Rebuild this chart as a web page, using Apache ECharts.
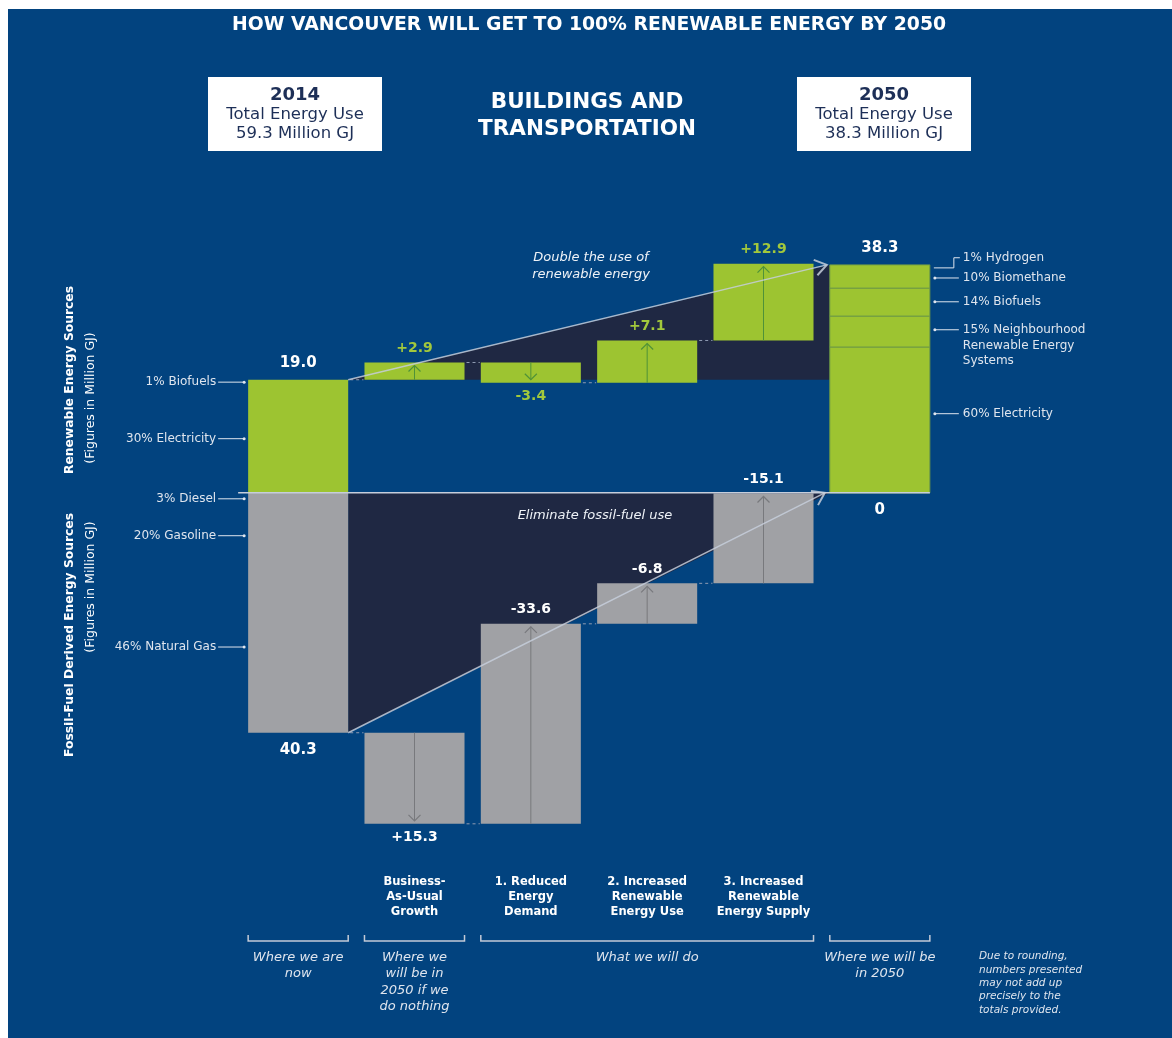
<!DOCTYPE html>
<html>
<head>
<meta charset="utf-8">
<title>How Vancouver will get to 100% renewable energy by 2050</title>
<script src="https://cdn.jsdelivr.net/npm/echarts@6/dist/echarts.min.js"></script>
<style>
  html, body { margin: 0; padding: 0; background: #fff; }
  #wrap { position: relative; width: 1172px; height: 1038px; overflow: hidden; }
  #bg { position: absolute; left: 8px; top: 9px; right: 0; bottom: 0; background: #02437f; }
  #chart { position: absolute; left: 0; top: 0; width: 1172px; height: 1038px; }
</style>
</head>
<body>
<div id="wrap"><div id="bg"></div><div id="chart"></div></div>
<script>
// columns of the waterfall
const categories = ['2014', 'Business-\nAs-Usual\nGrowth', '1. Reduced\nEnergy\nDemand',
  '2. Increased\nRenewable\nEnergy Use', '3. Increased\nRenewable\nEnergy Supply', '2050'];

// renewable sources (above zero), million GJ
const renewStart = 19.0;
const renewSteps = [2.9, -3.4, 7.1, 12.9];
const renewEnd = 38.3;
const renewEndParts = [24.5, 5.2, 4.7, 3.9]; // 2050 stack, bottom to top, as drawn

// fossil-fuel sources (drawn below zero), million GJ
const fossilStart = 40.3;
const fossilSteps = [15.3, -33.6, -6.8, -15.1];
const fossilEnd = 0;

// side call-outs and the level they point at
const leftLabels = ['1% Biofuels', '30% Electricity', '3% Diesel', '20% Gasoline', '46% Natural Gas'];
const leftLevels = [18.6, 9.1, -1.0, -7.2, -25.9];
const rightLabels = ['1% Hydrogen', '10% Biomethane', '14% Biofuels',
  '15% Neighbourhood\nRenewable Energy\nSystems', '60% Electricity'];
const rightLevels = [39.5, 36.1, 32.1, 27.4, 13.3];

// brackets under the columns
const bracketText = ['Where we are\nnow', 'Where we\nwill be in\n2050 if we\ndo nothing', 'What we will do', 'Where we will be\nin 2050'];
const bracketFrom = [0, 1, 2, 5];
const bracketTo = [0, 1, 4, 5];

const GREEN = '#9dc431';
const GREEN_TXT = '#a2c83c';
const GREY = '#a0a1a5';
const NAVY = '#1f2843';
const LIGHT = '#dfe5ee';
const FONT = "'DejaVu Sans', sans-serif";
const BAR_RATIO = 0.86;

// build the waterfall pieces
const bars = [];
const renewLevels = [renewStart];
const fossilLevels = [-fossilStart];
bars.push({ i: 0, from: 0, to: renewStart, side: 'r', kind: 'total', label: renewStart.toFixed(1) });
let lvl = renewStart;
renewSteps.forEach(function (d, k) {
  bars.push({ i: k + 1, from: lvl, to: lvl + d, side: 'r', kind: 'step', label: (d > 0 ? '+' : '') + d.toFixed(1) });
  lvl += d;
  renewLevels.push(lvl);
});
let acc = 0;
renewEndParts.forEach(function (p, k) {
  const last = k === renewEndParts.length - 1;
  bars.push({ i: 5, from: acc, to: acc + p, side: 'r', kind: 'part', label: last ? renewEnd.toFixed(1) : null });
  acc += p;
});
bars.push({ i: 0, from: 0, to: -fossilStart, side: 'f', kind: 'total', label: fossilStart.toFixed(1) });
lvl = -fossilStart;
fossilSteps.forEach(function (d, k) {
  bars.push({ i: k + 1, from: lvl, to: lvl - d, side: 'f', kind: 'step', label: (d > 0 ? '+' : '') + d.toFixed(1) });
  lvl -= d;
  fossilLevels.push(lvl);
});
bars.push({ i: 5, from: 0, to: -fossilEnd, side: 'f', kind: 'total', label: String(fossilEnd) });

function edges(api, i) {
  const bw = api.size([1, 0])[0] * BAR_RATIO;
  const c = api.coord([i, 0])[0];
  return [c - bw / 2, c + bw / 2, c];
}

function renderBar(params, api) {
  const b = bars[params.dataIndex];
  const e = edges(api, b.i);
  const y1 = api.coord([b.i, b.from])[1];
  const y2 = api.coord([b.i, b.to])[1];
  const kids = [];
  const h = Math.abs(y1 - y2);
  if (h > 0) {
    kids.push({
      type: 'rect',
      shape: { x: e[0], y: Math.min(y1, y2), width: e[1] - e[0], height: h },
      style: { fill: b.side === 'r' ? GREEN : GREY, stroke: b.kind === 'part' ? '#6f9a45' : null, lineWidth: 1 }
    });
  }
  if (b.kind === 'step') {
    const up = y2 < y1;
    const tip = up ? y2 + 3 : y2 - 3;
    const ac = b.side === 'r' ? '#4f9238' : '#78797d';
    const w = up ? 6 : -6;
    kids.push({ type: 'line', shape: { x1: e[2], y1: y1, x2: e[2], y2: tip }, style: { stroke: ac, lineWidth: 1 } });
    kids.push({ type: 'polyline', shape: { points: [[e[2] - 6, tip + w], [e[2], tip], [e[2] + 6, tip + w]] },
      style: { stroke: ac, fill: null, lineWidth: 1.2 } });
  }
  if (b.label !== null) {
    let down;
    if (y2 === y1) down = b.side === 'f';
    else down = y2 > y1;
    const off = b.kind === 'step' ? 14 : 17;
    kids.push({
      type: 'text',
      style: {
        text: b.label, x: e[2], y: down ? y2 + off : y2 - off,
        align: 'center', verticalAlign: 'middle',
        fill: (b.kind === 'step' && b.side === 'r') ? GREEN_TXT : '#ffffff',
        font: 'bold ' + (b.kind === 'step' ? 14 : 15) + 'px ' + FONT
      }
    });
  }
  return { type: 'group', children: kids };
}

function renderBridge(params, api) {
  const e0 = edges(api, 0), e5 = edges(api, 5);
  const yr0 = api.coord([0, renewStart])[1];
  const yr5 = api.coord([5, renewEnd])[1];
  const yz = api.coord([0, 0])[1];
  const yf0 = api.coord([0, -fossilStart])[1];
  return {
    type: 'group',
    children: [
      { type: 'polygon', shape: { points: [[e0[1], yr0], [e5[0], yr5], [e5[0], yr0]] }, style: { fill: NAVY } },
      { type: 'polygon', shape: { points: [[e0[1], yz], [e0[1], yf0], [e5[0], yz]] }, style: { fill: NAVY } }
    ]
  };
}

function chevron(tip, from, len, ang) {
  const dx = from[0] - tip[0], dy = from[1] - tip[1];
  const d = Math.sqrt(dx * dx + dy * dy);
  const ux = dx / d, uy = dy / d;
  function rot(a) {
    return [tip[0] + len * (ux * Math.cos(a) - uy * Math.sin(a)), tip[1] + len * (ux * Math.sin(a) + uy * Math.cos(a))];
  }
  return [rot(ang), tip, rot(-ang)];
}

function renderOverlay(params, api) {
  const kids = [];
  const e0 = edges(api, 0), e5 = edges(api, 5);
  const yz = api.coord([0, 0])[1];
  const lineCol = '#c6cedb';

  // dashed joins between columns
  [renewLevels, fossilLevels].forEach(function (levels) {
    for (let k = 0; k < levels.length - 1; k++) {
      const a = edges(api, k), b = edges(api, k + 1);
      const y = api.coord([k, levels[k]])[1];
      kids.push({ type: 'line', shape: { x1: a[1] + 2, y1: y, x2: b[0] - 1, y2: y },
        style: { stroke: '#8f9bb2', lineWidth: 1, lineDash: [3, 3] } });
    }
  });

  // zero line
  kids.push({ type: 'line', shape: { x1: e0[0] - 10, y1: yz, x2: e5[1], y2: yz },
    style: { stroke: lineCol, lineWidth: 1.5 } });

  // long arrows
  const ra = [e0[1], api.coord([0, renewStart])[1]];
  const rb = [e5[0] - 3, api.coord([5, renewEnd])[1]];
  const fa = [e0[1], api.coord([0, -fossilStart])[1]];
  const fb = [e5[0] - 5, yz];
  [[ra, rb], [fa, fb]].forEach(function (p) {
    kids.push({ type: 'line', shape: { x1: p[0][0], y1: p[0][1], x2: p[1][0], y2: p[1][1] },
      style: { stroke: lineCol, lineWidth: 1.5, opacity: 0.85 } });
    kids.push({ type: 'polyline', shape: { points: chevron(p[1], p[0], 14, 0.6) },
      style: { stroke: lineCol, fill: null, lineWidth: 2, opacity: 0.85 } });
  });

  // left call-outs
  leftLabels.forEach(function (t, k) {
    const y = api.coord([0, leftLevels[k]])[1];
    const L = e0[0];
    kids.push({ type: 'line', shape: { x1: L - 30, y1: y, x2: L - 4, y2: y }, style: { stroke: LIGHT, lineWidth: 1 } });
    kids.push({ type: 'circle', shape: { cx: L - 4, cy: y, r: 1.5 }, style: { fill: LIGHT } });
    kids.push({ type: 'text', style: { text: t, x: L - 32, y: y, align: 'right', verticalAlign: 'middle',
      fill: LIGHT, font: '12px ' + FONT } });
  });

  // right call-outs
  rightLabels.forEach(function (t, k) {
    const y = api.coord([5, rightLevels[k]])[1];
    const R = e5[1];
    if (rightLevels[k] > renewEnd) {
      const ys = api.coord([5, renewEnd])[1] + 3;
      kids.push({ type: 'polyline', shape: { points: [[R + 4, ys], [R + 24, ys], [R + 24, y], [R + 30, y]] },
        style: { stroke: LIGHT, fill: null, lineWidth: 1 } });
    } else {
      kids.push({ type: 'line', shape: { x1: R + 5, y1: y, x2: R + 29, y2: y }, style: { stroke: LIGHT, lineWidth: 1 } });
      kids.push({ type: 'circle', shape: { cx: R + 5, cy: y, r: 1.5 }, style: { fill: LIGHT } });
    }
    kids.push({ type: 'text', style: { text: t, x: R + 33, y: y - 7.5, align: 'left', verticalAlign: 'top',
      lineHeight: 15.5, fill: LIGHT, font: '12px ' + FONT } });
  });

  // brackets
  const yb = params.coordSys.y + params.coordSys.height + 91;
  bracketText.forEach(function (t, k) {
    const xl = edges(api, bracketFrom[k])[0], xr = edges(api, bracketTo[k])[1];
    kids.push({ type: 'polyline', shape: { points: [[xl, yb - 6], [xl, yb], [xr, yb], [xr, yb - 6]] },
      style: { stroke: '#c3cad7', fill: null, lineWidth: 1.5 } });
    kids.push({ type: 'text', style: { text: t, x: (xl + xr) / 2, y: yb + 8, align: 'center', verticalAlign: 'top',
      lineHeight: 16.5, fill: LIGHT, font: 'italic 13px ' + FONT } });
  });

  return { type: 'group', children: kids };
}

const chart = echarts.init(document.getElementById('chart'));
const option = {
  animation: false,
  backgroundColor: 'transparent',
  grid: { left: 240, width: 698, top: 225, height: 625 },
  xAxis: {
    type: 'category',
    data: categories,
    axisLine: { show: false },
    axisTick: { show: false },
    splitLine: { show: false },
    axisLabel: {
      interval: 0,
      margin: 25,
      color: '#ffffff',
      fontFamily: FONT,
      fontWeight: 'bold',
      fontSize: 11.5,
      lineHeight: 15,
      formatter: function (v, i) { return (i === 0 || i === categories.length - 1) ? '' : v; }
    }
  },
  yAxis: { type: 'value', min: -60, max: 45, show: false },
  series: [
    { type: 'custom', z: 1, clip: false, renderItem: renderBridge, data: [[0, 0]], encode: { x: 0, y: 1 }, silent: true },
    { type: 'custom', z: 2, clip: false, renderItem: renderBar,
      data: bars.map(function (b) { return [b.i, b.from, b.to]; }), encode: { x: 0, y: [1, 2] }, silent: true },
    { type: 'custom', z: 3, clip: false, renderItem: renderOverlay, data: [[0, 0]], encode: { x: 0, y: 1 }, silent: true }
  ],
  graphic: [
    { type: 'text', z: 100, x: 589, y: 25, style: { text: 'HOW VANCOUVER WILL GET TO 100% RENEWABLE ENERGY BY 2050',
      align: 'center', verticalAlign: 'middle', fill: '#fff', font: 'bold 18.8px ' + FONT } },
    { type: 'rect', z: 100, shape: { x: 208, y: 77, width: 174, height: 74 }, style: { fill: '#fff' } },
    { type: 'text', z: 101, x: 295, y: 95, style: { text: '2014', align: 'center', verticalAlign: 'middle', fill: '#1d2f57', font: 'bold 18px ' + FONT } },
    { type: 'text', z: 101, x: 295, y: 124, style: { text: 'Total Energy Use\n59.3 Million GJ', align: 'center', verticalAlign: 'middle',
      lineHeight: 19, fill: '#1d2f57', font: '16.5px ' + FONT } },
    { type: 'rect', z: 100, shape: { x: 797, y: 77, width: 174, height: 74 }, style: { fill: '#fff' } },
    { type: 'text', z: 101, x: 884, y: 95, style: { text: '2050', align: 'center', verticalAlign: 'middle', fill: '#1d2f57', font: 'bold 18px ' + FONT } },
    { type: 'text', z: 101, x: 884, y: 124, style: { text: 'Total Energy Use\n38.3 Million GJ', align: 'center', verticalAlign: 'middle',
      lineHeight: 19, fill: '#1d2f57', font: '16.5px ' + FONT } },
    { type: 'text', z: 100, x: 587, y: 116, style: { text: 'BUILDINGS AND\nTRANSPORTATION', align: 'center', verticalAlign: 'middle',
      lineHeight: 27, fill: '#fff', font: 'bold 21.5px ' + FONT } },
    { type: 'text', z: 100, x: 591, y: 266, style: { text: 'Double the use of\nrenewable energy', align: 'center', verticalAlign: 'middle',
      lineHeight: 17, fill: '#eef2f7', font: 'italic 13px ' + FONT } },
    { type: 'text', z: 100, x: 595, y: 516, style: { text: 'Eliminate fossil-fuel use', align: 'center', verticalAlign: 'middle',
      fill: '#eef2f7', font: 'italic 13px ' + FONT } },
    { type: 'text', z: 100, x: 70, y: 380, rotation: Math.PI / 2, style: { text: 'Renewable Energy Sources', align: 'center', verticalAlign: 'middle',
      fill: '#fff', font: 'bold 12.3px ' + FONT } },
    { type: 'text', z: 100, x: 91, y: 398, rotation: Math.PI / 2, style: { text: '(Figures in Million GJ)', align: 'center', verticalAlign: 'middle',
      fill: '#fff', font: '12.5px ' + FONT } },
    { type: 'text', z: 100, x: 70, y: 635, rotation: Math.PI / 2, style: { text: 'Fossil-Fuel Derived Energy Sources', align: 'center', verticalAlign: 'middle',
      fill: '#fff', font: 'bold 12.3px ' + FONT } },
    { type: 'text', z: 100, x: 91, y: 587, rotation: Math.PI / 2, style: { text: '(Figures in Million GJ)', align: 'center', verticalAlign: 'middle',
      fill: '#fff', font: '12.5px ' + FONT } },
    { type: 'text', z: 100, x: 979, y: 950, style: { text: 'Due to rounding,\nnumbers presented\nmay not add up\nprecisely to the\ntotals provided.',
      align: 'left', verticalAlign: 'top', lineHeight: 13.3, fill: '#dfe5ee', font: 'italic 10.5px ' + FONT } }
  ]
};
chart.setOption(option);
</script>
</body>
</html>
